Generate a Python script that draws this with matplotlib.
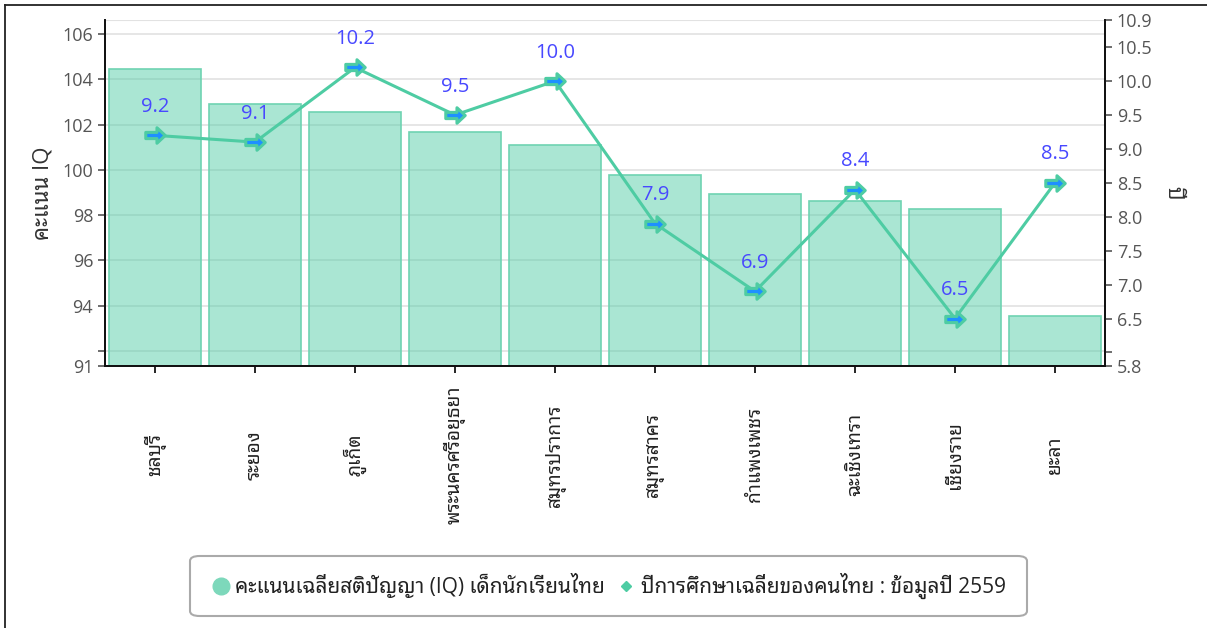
import matplotlib
matplotlib.use("Agg")
import matplotlib.pyplot as plt
from matplotlib import font_manager as fm
from matplotlib.path import Path
from matplotlib.patches import FancyBboxPatch
from matplotlib.lines import Line2D
import numpy as np

categories = ["ชลบุรี", "ระยอง", "ภูเก็ต", "พระนครศรีอยุธยา", "สมุทรปราการ",
              "สมุทรสาคร", "กำแพงเพชร", "ฉะเชิงเทรา", "เชียงราย", "ยะลา"]
iq_scores = [104.45, 102.9, 102.55, 101.65, 101.1, 99.75, 98.95, 98.6, 98.25, 93.55]
edu_years = [9.2, 9.1, 10.2, 9.5, 10.0, 7.9, 6.9, 8.4, 6.5, 8.5]
left_ticks = [94, 96, 98, 100, 102, 104, 106]
right_ticks = [6.5, 7.0, 7.5, 8.0, 8.5, 9.0, 9.5, 10.0, 10.5]
bar_label = "คะแนนเฉลี่ยสติปัญญา (IQ) เด็กนักเรียนไทย"
line_label = "ปีการศึกษาเฉลี่ยของคนไทย : ข้อมูลปี 2559"
left_title = "คะแนน IQ"
right_title = "ปี"

available = {f.name for f in fm.fontManager.ttflist}
thai_pref = ["Noto Sans Thai Looped", "IBM Plex Sans Thai Looped", "Noto Sans Thai",
             "IBM Plex Sans Thai", "Loma"]
thai_font = next((f for f in thai_pref if f in available), "Loma")
latin_font = "Open Sans" if "Open Sans" in available else "DejaVu Sans"
plt.rcParams["font.family"] = [latin_font, thai_font, "DejaVu Sans"]

W, H = 1207, 628
fig = plt.figure(figsize=(W / 100, H / 100), dpi=100)
ax = fig.add_axes([105 / W, 1 - 366 / H, 1000 / W, 346 / H])
ax2 = ax.twinx()

x = np.arange(len(categories))
tick_col = "#555555"
green = "#4ecca3"

ymin, ymax = 91.33, 106.62
ax.set_ylim(ymin, ymax)
ax.set_xlim(-0.5, len(categories) - 0.5)
ax.bar(x, iq_scores, width=0.92, bottom=0, color=(78/255, 204/255, 163/255, 0.48),
       edgecolor="#6fd3b2", linewidth=1.2, zorder=2)
ax.set_yticks([ymin, 92] + left_ticks)
ax.set_yticklabels(["91", ""] + [str(t) for t in left_ticks])
ax.yaxis.grid(True, color="#e2e2e2", linewidth=1.2, zorder=0)
ax.axhline(ymax, color="#e2e2e2", linewidth=1.5, zorder=0)
ax.set_axisbelow(True)
ax.set_xticks(x)
ax.set_xticklabels(categories, rotation=90, fontsize=13.8, color="#222222",
                   ha="center", va="center", rotation_mode="anchor")
ax.tick_params(axis="x", length=5, width=1.2, pad=59)
ax.tick_params(axis="y", length=5, width=1.2, labelsize=13, colors=tick_col)
ax.set_ylabel(left_title, fontsize=16, color="#333333", labelpad=6)

for a in (ax, ax2):
    a.spines["top"].set_visible(False)
    for s in ["left", "right", "bottom"]:
        a.spines[s].set_linewidth(1.3)
        a.spines[s].set_color("#111111")

ax2.set_ylim(5.8, 10.9)
ax2.set_yticks([5.8, 6.0] + right_ticks + [10.9])
ax2.set_yticklabels(["5.8", ""] + ["%.1f" % t for t in right_ticks] + ["10.9"])
ax2.tick_params(axis="y", length=5, width=1.2, labelsize=13, colors=tick_col)
ax2.set_ylabel(right_title, fontsize=15, color="#333333", rotation=270, labelpad=22)

arrow = Path([(-1, -0.32), (0.15, -0.32), (0.15, -0.8), (1, 0), (0.15, 0.8),
              (0.15, 0.32), (-1, 0.32), (-1, -0.32)],
             [Path.MOVETO] + [Path.LINETO] * 6 + [Path.CLOSEPOLY])
ax2.plot(x, edu_years, color=green, linewidth=2.2, marker=arrow, markersize=14,
         markerfacecolor="#1e90ff", markeredgecolor=green, markeredgewidth=2.2, zorder=5)
for xi, v in zip(x, edu_years):
    ax2.annotate("%.1f" % v, (xi, v), xytext=(0, 20.5), textcoords="offset points",
                 ha="center", va="center", fontsize=14.5, color="#4848ff")

# legend box
lx0, ly0, lx1, ly1 = 190, 556, 1027, 616
box = FancyBboxPatch((lx0 / W, 1 - ly1 / H), (lx1 - lx0) / W, (ly1 - ly0) / H,
                     boxstyle="round,pad=0,rounding_size=0.008", transform=fig.transFigure,
                     facecolor="white", edgecolor="#aaaaaa", linewidth=1.5)
fig.patches.append(box)
handles = [Line2D([], [], linestyle="none", marker="o", markersize=12,
                  markerfacecolor="#7dd8bb", markeredgecolor="#7dd8bb"),
           Line2D([], [], linestyle="none", marker="D", markersize=5,
                  markerfacecolor=green, markeredgecolor=green)]
fig.legend(handles, [bar_label, line_label], loc="center", bbox_to_anchor=(609 / W, 1 - 586 / H),
           ncol=2, frameon=False, fontsize=15, handletextpad=0.3, columnspacing=0.6,
           labelcolor="#222222", handlelength=0.8)

# outer border (left and top)
fig.add_artist(Line2D([5 / W, 5 / W], [0, 1 - 5 / H], transform=fig.transFigure, color="#222222", linewidth=1.3))
fig.add_artist(Line2D([5 / W, 1], [1 - 5 / H, 1 - 5 / H], transform=fig.transFigure, color="#222222", linewidth=1.3))

fig.savefig("out.png", dpi=100)
